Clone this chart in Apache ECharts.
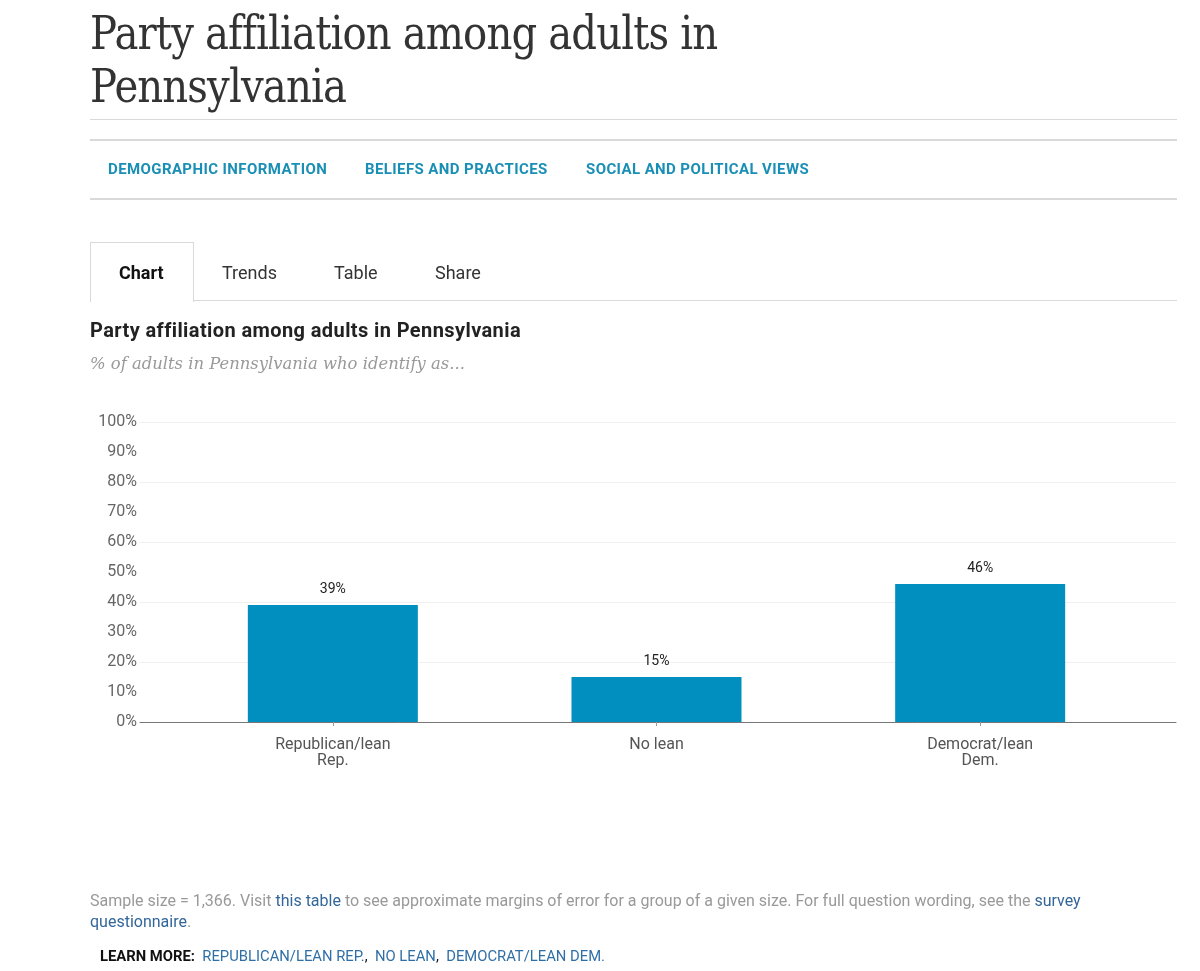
<!DOCTYPE html>
<html><head><meta charset="utf-8">
<script src="https://cdn.jsdelivr.net/npm/echarts@6/dist/echarts.min.js"></script>
<style>
html,body{margin:0;padding:0;background:#fff;width:1200px;height:971px;overflow:hidden;}
#chart{position:absolute;left:0;top:0;width:1200px;height:971px;}
.t{position:absolute;white-space:nowrap;}
.line{position:absolute;left:90px;width:1087px;background:#d9d9d9;}
#title{left:90px;top:6px;font-family:"DejaVu Serif",serif;font-size:47px;line-height:53px;color:#333;letter-spacing:-1px;transform-origin:0 0;transform:scaleX(0.855);}
.nav{top:160px;font-family:Roboto,sans-serif;font-weight:bold;font-size:15px;color:#1a8fb5;letter-spacing:0.4px;}
.tab{top:262px;font-family:Roboto,sans-serif;font-size:18px;color:#333;}
#tabbox{position:absolute;left:90px;top:242px;width:102px;height:59px;border:1px solid #d9d9d9;border-bottom:none;background:#fff;}
#ctitle{left:90px;top:318px;font-family:Roboto,sans-serif;font-weight:bold;font-size:20px;letter-spacing:0.4px;color:#222;}
#csub{left:90px;top:354px;font-family:"DejaVu Serif",serif;font-style:italic;font-size:16.4px;color:#999;}
.foot{left:90px;font-family:Roboto,sans-serif;font-size:16px;color:#999;}
.foot a{color:#336699;text-decoration:none;}
#learn{left:100px;top:947px;font-family:Roboto,sans-serif;font-size:14.8px;color:#111;}
#learn a{color:#2f6fa6;text-decoration:none;}
</style></head>
<body>
<div id="chart"></div>
<div class="t" id="title">Party affiliation among adults in<br>Pennsylvania</div>
<div class="line" style="top:119px;height:1px;"></div>
<div class="line" style="top:139px;height:2px;"></div>
<div class="t nav" style="left:108px;">DEMOGRAPHIC INFORMATION</div>
<div class="t nav" style="left:365px;">BELIEFS AND PRACTICES</div>
<div class="t nav" style="left:586px;">SOCIAL AND POLITICAL VIEWS</div>
<div class="line" style="top:198px;height:2px;"></div>
<div class="line" style="top:300px;height:1px;"></div>
<div id="tabbox"></div>
<div class="t tab" style="left:119px;font-weight:bold;color:#111;">Chart</div>
<div class="t tab" style="left:222px;">Trends</div>
<div class="t tab" style="left:334px;">Table</div>
<div class="t tab" style="left:435px;">Share</div>
<div class="t" id="ctitle">Party affiliation among adults in Pennsylvania</div>
<div class="t" id="csub">% of adults in Pennsylvania who identify as...</div>
<div class="t foot" style="top:891px;">Sample size = 1,366. Visit <a>this table</a> to see approximate margins of error for a group of a given size. For full question wording, see the <a>survey</a></div>
<div class="t foot" style="top:912px;"><a>questionnaire</a>.</div>
<div class="t" id="learn"><b>LEARN MORE:</b>&nbsp; <a>REPUBLICAN/LEAN REP.</a>,&nbsp; <a>NO LEAN</a>,&nbsp; <a>DEMOCRAT/LEAN DEM.</a></div>
<script>
const categories = ['Republican/lean\nRep.', 'No lean', 'Democrat/lean\nDem.'];
const values = [39, 15, 46];
const yTicks = [0, 10, 20, 30, 40, 50, 60, 70, 80, 90, 100];

const chart = echarts.init(document.getElementById('chart'));
const font = 'Roboto, sans-serif';
chart.setOption({
  animation: false,
  grid: [
    {left: 140, right: 24, top: 422, bottom: 249},
    {left: 171, right: 58, top: 422, bottom: 249}
  ],
  xAxis: [
    {gridIndex: 0, type: 'value', min: 0, max: 1, show: true,
      axisLine: {show: true, onZero: false, lineStyle: {color: '#777', width: 1}},
      axisTick: {show: false}, axisLabel: {show: false}, splitLine: {show: false}},
    {gridIndex: 1, type: 'category', data: categories,
      axisLine: {show: false},
      axisTick: {show: true, alignWithLabel: true, length: 4, lineStyle: {color: '#999'}},
      axisLabel: {color: '#555', fontFamily: font, fontSize: 16, lineHeight: 16, margin: 15}}
  ],
  yAxis: [
    {gridIndex: 0, type: 'value', min: 0, max: 100, interval: 20,
      axisLine: {show: false}, axisTick: {show: false}, axisLabel: {show: false},
      splitLine: {show: true, lineStyle: {color: '#f0f0f0', width: 1}}},
    {gridIndex: 1, type: 'value', min: 0, max: 100, interval: 10,
      axisLine: {show: false}, axisTick: {show: false}, splitLine: {show: false},
      axisLabel: {color: '#666', fontFamily: font, fontSize: 16, margin: 34,
        formatter: v => yTicks.includes(v) ? v + '%' : ''}}
  ],
  series: [{
    type: 'bar', xAxisIndex: 1, yAxisIndex: 1, data: values, barWidth: 170,
    itemStyle: {color: '#008fbf'},
    label: {show: true, position: 'top', distance: 9, formatter: '{c}%',
      color: '#222', fontFamily: font, fontSize: 14}
  }]
});
</script>
</body></html>
